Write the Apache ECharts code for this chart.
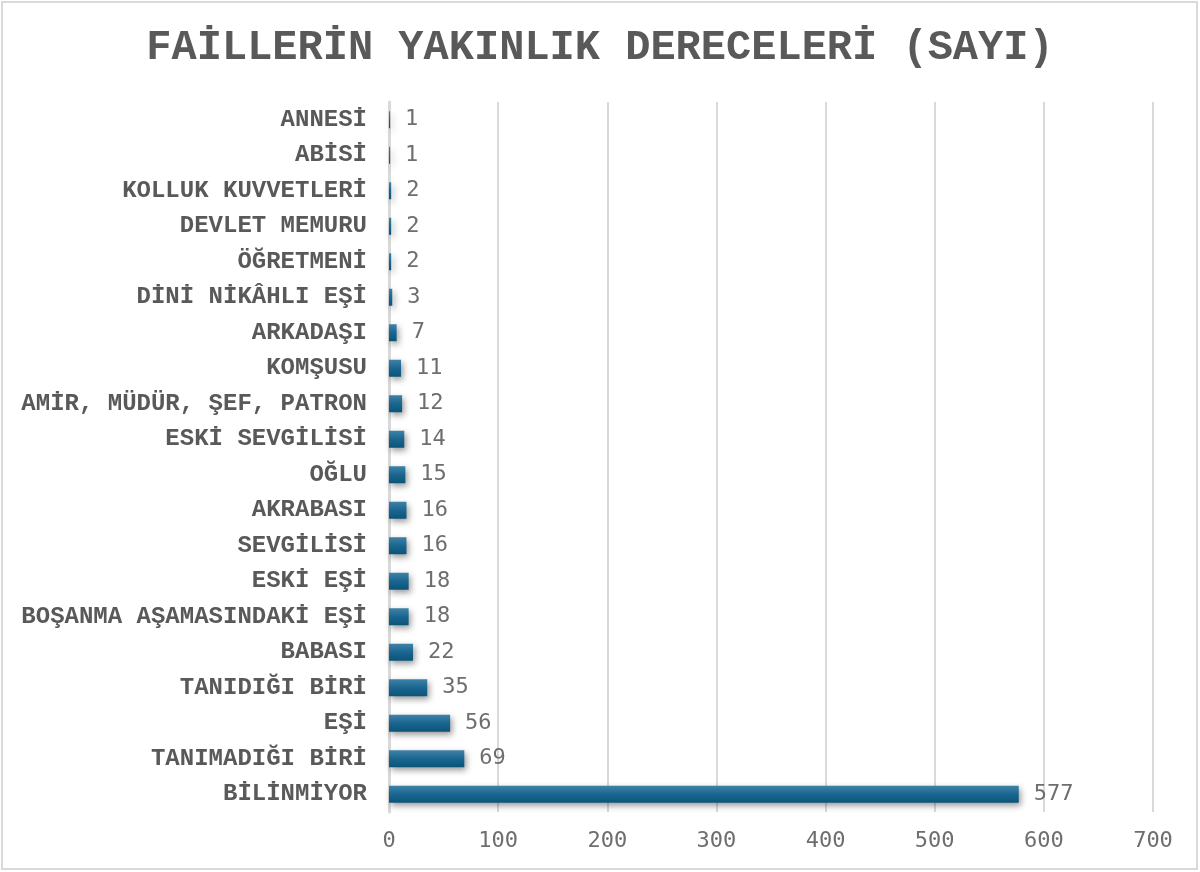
<!DOCTYPE html>
<html>
<head>
<meta charset="utf-8">
<script src="https://cdn.jsdelivr.net/npm/echarts@6/dist/echarts.min.js"></script>
<style>
  html, body { margin: 0; padding: 0; background: #fff; }
  #chart { width: 1200px; height: 872px; }
</style>
</head>
<body>
<div id="chart"></div>
<script>
// categories listed from bottom to top
var categories = [
  'BİLİNMİYOR', 'TANIMADIĞI BİRİ', 'EŞİ', 'TANIDIĞI BİRİ', 'BABASI',
  'BOŞANMA AŞAMASINDAKİ EŞİ', 'ESKİ EŞİ', 'SEVGİLİSİ', 'AKRABASI', 'OĞLU',
  'ESKİ SEVGİLİSİ', 'AMİR, MÜDÜR, ŞEF, PATRON', 'KOMŞUSU', 'ARKADAŞI',
  'DİNİ NİKÂHLI EŞİ', 'ÖĞRETMENİ', 'DEVLET MEMURU', 'KOLLUK KUVVETLERİ',
  'ABİSİ', 'ANNESİ'
]
var counts = [577, 69, 56, 35, 22, 18, 18, 16, 16, 15, 14, 12, 11, 7, 3, 2, 2, 2, 1, 1]
var xTicks = [0, 100, 200, 300, 400, 500, 600, 700]

var monoSerif = '"Courier New", Courier, "Nimbus Mono PS", "Nimbus Mono L", FreeMono, "Liberation Mono", monospace'

var chart = echarts.init(document.getElementById('chart'), null, { renderer: 'canvas' })

var option = {
  backgroundColor: '#ffffff',
  animation: false,
  title: {
    text: 'FAİLLERİN YAKINLIK DERECELERİ (SAYI)',
    left: 'center',
    top: 22,
    textStyle: {
      fontFamily: monoSerif,
      fontWeight: 'bold',
      fontSize: 42,
      color: '#595959'
    }
  },
  graphic: [{
    type: 'rect',
    shape: { x: 2, y: 2, width: 1195, height: 867 },
    style: { fill: 'none', stroke: '#d9d9d9', lineWidth: 2 },
    silent: true
  }],
  grid: { left: 389, right: 47, top: 102, bottom: 60, containLabel: false },
  xAxis: {
    type: 'value',
    min: xTicks[0],
    max: xTicks[xTicks.length - 1],
    interval: 100,
    axisLine: { show: false },
    axisTick: { show: false },
    splitLine: { lineStyle: { color: '#d9d9d9', width: 2 } },
    axisLabel: {
      margin: 18,
      fontFamily: 'DejaVu Sans Mono',
      fontSize: 22,
      color: '#6e6e6e'
    }
  },
  yAxis: {
    type: 'category',
    data: categories,
    axisTick: { show: false },
    axisLine: { show: true, lineStyle: { color: '#d9d9d9', width: 3 } },
    axisLabel: {
      margin: 22,
      fontFamily: monoSerif,
      fontWeight: 'bold',
      fontSize: 24,
      color: '#595959'
    }
  },
  series: [{
    type: 'bar',
    data: counts,
    barWidth: 17,
    itemStyle: {
      color: new echarts.graphic.LinearGradient(0, 0, 0, 1, [
        { offset: 0, color: '#3f82a8' },
        { offset: 0.5, color: '#1a6690' },
        { offset: 1, color: '#0b5478' }
      ]),
      shadowColor: 'rgba(0,0,0,0.4)',
      shadowBlur: 6,
      shadowOffsetY: 3,
      shadowOffsetX: 2
    },
    label: {
      show: true,
      position: 'right',
      distance: 15,
      fontFamily: 'DejaVu Sans Mono',
      fontSize: 22,
      color: '#6e6e6e'
    }
  }]
}

chart.setOption(option)
</script>
</body>
</html>
